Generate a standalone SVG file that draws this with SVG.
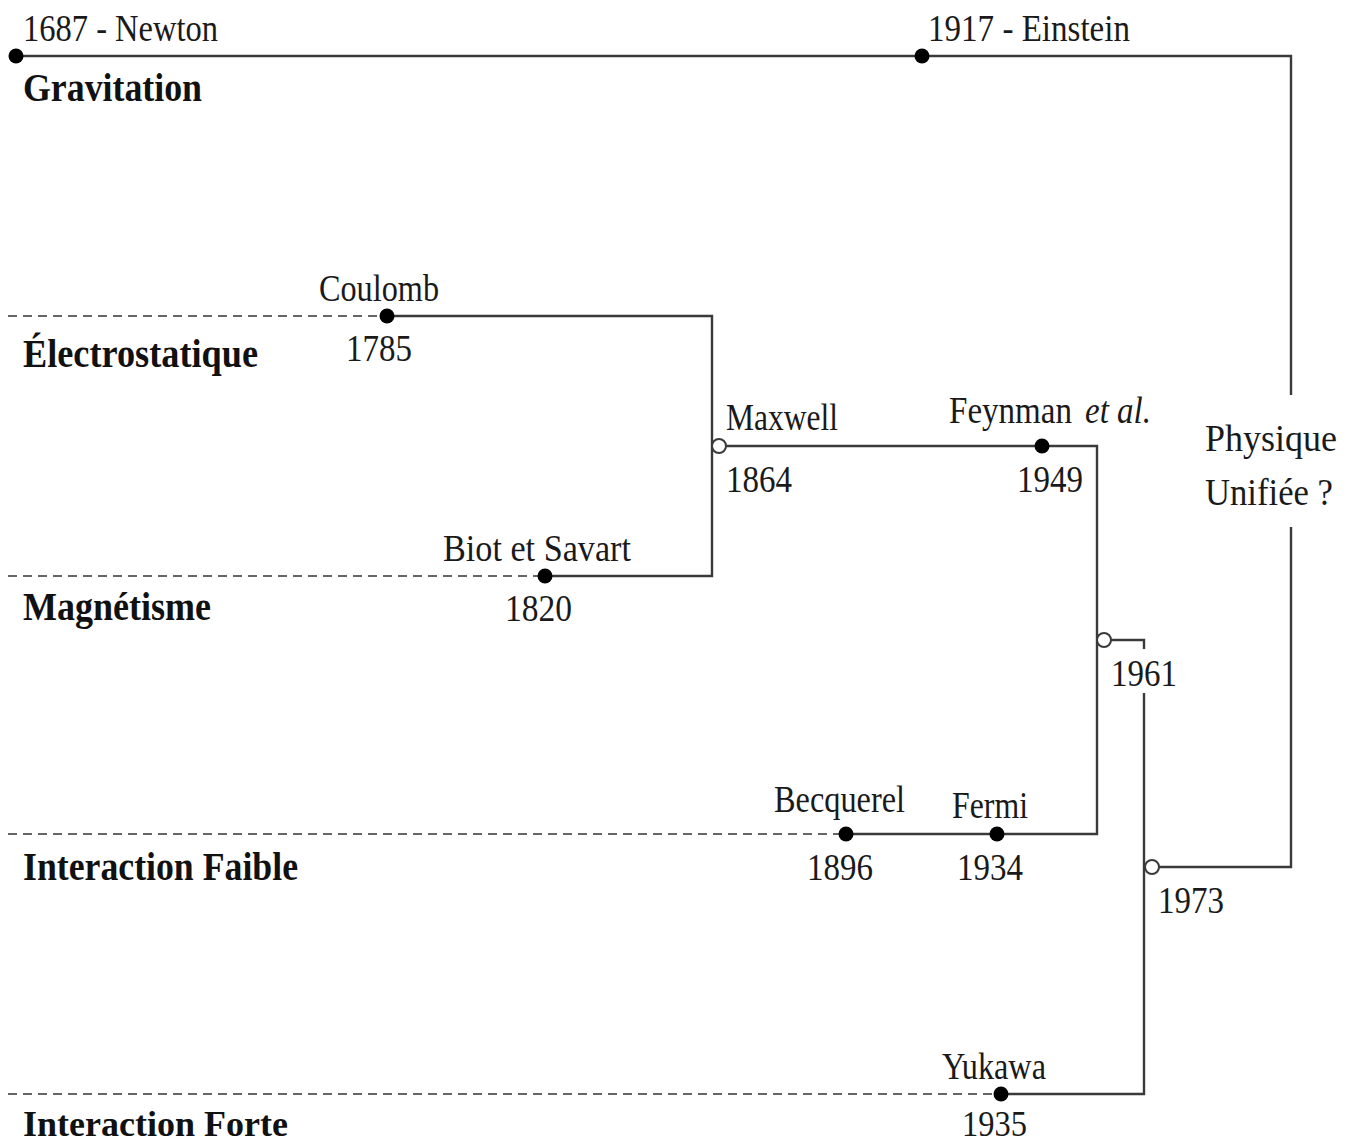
<svg xmlns="http://www.w3.org/2000/svg" width="1353" height="1144" viewBox="0 0 1353 1144">
<style>
  .bg { fill: #ffffff; }
  .ln { fill: none; stroke: #3a3a3a; stroke-width: 2.4; }
  .dash { fill: none; stroke: #666666; stroke-width: 2; stroke-dasharray: 9 6; }
  .dot { fill: #000000; }
  .ring { fill: #ffffff; stroke: #3a3a3a; stroke-width: 2; }
  .t { font-family: "Liberation Serif", "DejaVu Serif", serif; font-size: 38px; fill: #1a1a1a; }
  .b { font-family: "Liberation Serif", "DejaVu Serif", serif; font-size: 40px; font-weight: bold; fill: #111111; }
  .i { font-style: italic; }
</style>
<rect class="bg" x="0" y="0" width="1353" height="1144"/>

<g id="connectors">
  <path class="ln" d="M16,56 H1291 V395"/>
  <path class="ln" d="M1291,527 V867 H1152"/>
  <path class="dash" d="M8,316 H387"/>
  <path class="ln" d="M387,316 H712 V576 H545"/>
  <path class="dash" d="M8,576 H545"/>
  <path class="ln" d="M719,446 H1097 V834 H846"/>
  <path class="dash" d="M8,834 H846"/>
  <path class="ln" d="M1104,640 H1144 V649"/>
  <path class="ln" d="M1144,693 V1094 H1001"/>
  <path class="dash" d="M8,1094 H1001"/>
</g>

<g id="gravitation">
  <text class="b" x="23" y="101" textLength="179" lengthAdjust="spacingAndGlyphs">Gravitation</text>
</g>
<g id="newton">
  <circle class="dot" cx="16" cy="56" r="7.5"/>
  <text class="t" x="23" y="41" textLength="195" lengthAdjust="spacingAndGlyphs">1687 - Newton</text>
</g>
<g id="einstein">
  <circle class="dot" cx="922" cy="56" r="7.5"/>
  <text class="t" x="928" y="41" textLength="202" lengthAdjust="spacingAndGlyphs">1917 - Einstein</text>
</g>

<g id="electrostatique">
  <text class="b" x="23" y="367" textLength="235" lengthAdjust="spacingAndGlyphs">Électrostatique</text>
</g>
<g id="coulomb">
  <circle class="dot" cx="387" cy="316" r="7.5"/>
  <text class="t" x="319" y="301" textLength="120" lengthAdjust="spacingAndGlyphs">Coulomb</text>
  <text class="t" x="346" y="361" textLength="66" lengthAdjust="spacingAndGlyphs">1785</text>
</g>

<g id="magnetisme">
  <text class="b" x="23" y="620" textLength="188" lengthAdjust="spacingAndGlyphs">Magnétisme</text>
</g>
<g id="biot-savart">
  <circle class="dot" cx="545" cy="576" r="7.5"/>
  <text class="t" x="443" y="561" textLength="188" lengthAdjust="spacingAndGlyphs">Biot et Savart</text>
  <text class="t" x="505" y="621" textLength="67" lengthAdjust="spacingAndGlyphs">1820</text>
</g>

<g id="maxwell">
  <circle class="ring" cx="719" cy="446" r="7"/>
  <text class="t" x="726" y="430" textLength="112" lengthAdjust="spacingAndGlyphs">Maxwell</text>
  <text class="t" x="726" y="492" textLength="66" lengthAdjust="spacingAndGlyphs">1864</text>
</g>

<g id="feynman">
  <circle class="dot" cx="1042" cy="446" r="7.5"/>
  <text class="t" x="949" y="423" textLength="123" lengthAdjust="spacingAndGlyphs">Feynman</text>
  <text class="t i" x="1085" y="423" textLength="66" lengthAdjust="spacingAndGlyphs">et al.</text>
  <text class="t" x="1017" y="492" textLength="66" lengthAdjust="spacingAndGlyphs">1949</text>
</g>

<g id="physique-unifiee">
  <text class="t" x="1205" y="451" textLength="132" lengthAdjust="spacingAndGlyphs">Physique</text>
  <text class="t" x="1205" y="505" textLength="128" lengthAdjust="spacingAndGlyphs">Unifiée ?</text>
</g>

<g id="electrofaible-1961">
  <circle class="ring" cx="1104" cy="640" r="7"/>
  <text class="t" x="1111" y="686" textLength="66" lengthAdjust="spacingAndGlyphs">1961</text>
</g>

<g id="interaction-faible">
  <text class="b" x="23" y="880" textLength="275" lengthAdjust="spacingAndGlyphs">Interaction Faible</text>
</g>
<g id="becquerel">
  <circle class="dot" cx="846" cy="834" r="7.5"/>
  <text class="t" x="774" y="812" textLength="131" lengthAdjust="spacingAndGlyphs">Becquerel</text>
  <text class="t" x="807" y="880" textLength="66" lengthAdjust="spacingAndGlyphs">1896</text>
</g>
<g id="fermi">
  <circle class="dot" cx="997" cy="834" r="7.5"/>
  <text class="t" x="952" y="818" textLength="76" lengthAdjust="spacingAndGlyphs">Fermi</text>
  <text class="t" x="957" y="880" textLength="66" lengthAdjust="spacingAndGlyphs">1934</text>
</g>

<g id="modele-standard-1973">
  <circle class="ring" cx="1152" cy="867" r="7"/>
  <text class="t" x="1158" y="913" textLength="66" lengthAdjust="spacingAndGlyphs">1973</text>
</g>

<g id="interaction-forte">
  <text class="b" x="23" y="1136" font-size="36" textLength="265" lengthAdjust="spacingAndGlyphs" style="font-size:36px">Interaction Forte</text>
</g>
<g id="yukawa">
  <circle class="dot" cx="1001" cy="1094" r="7.5"/>
  <text class="t" x="942" y="1079" textLength="104" lengthAdjust="spacingAndGlyphs">Yukawa</text>
  <text class="t" x="962" y="1136" textLength="65" lengthAdjust="spacingAndGlyphs" style="font-size:35px">1935</text>
</g>
</svg>
